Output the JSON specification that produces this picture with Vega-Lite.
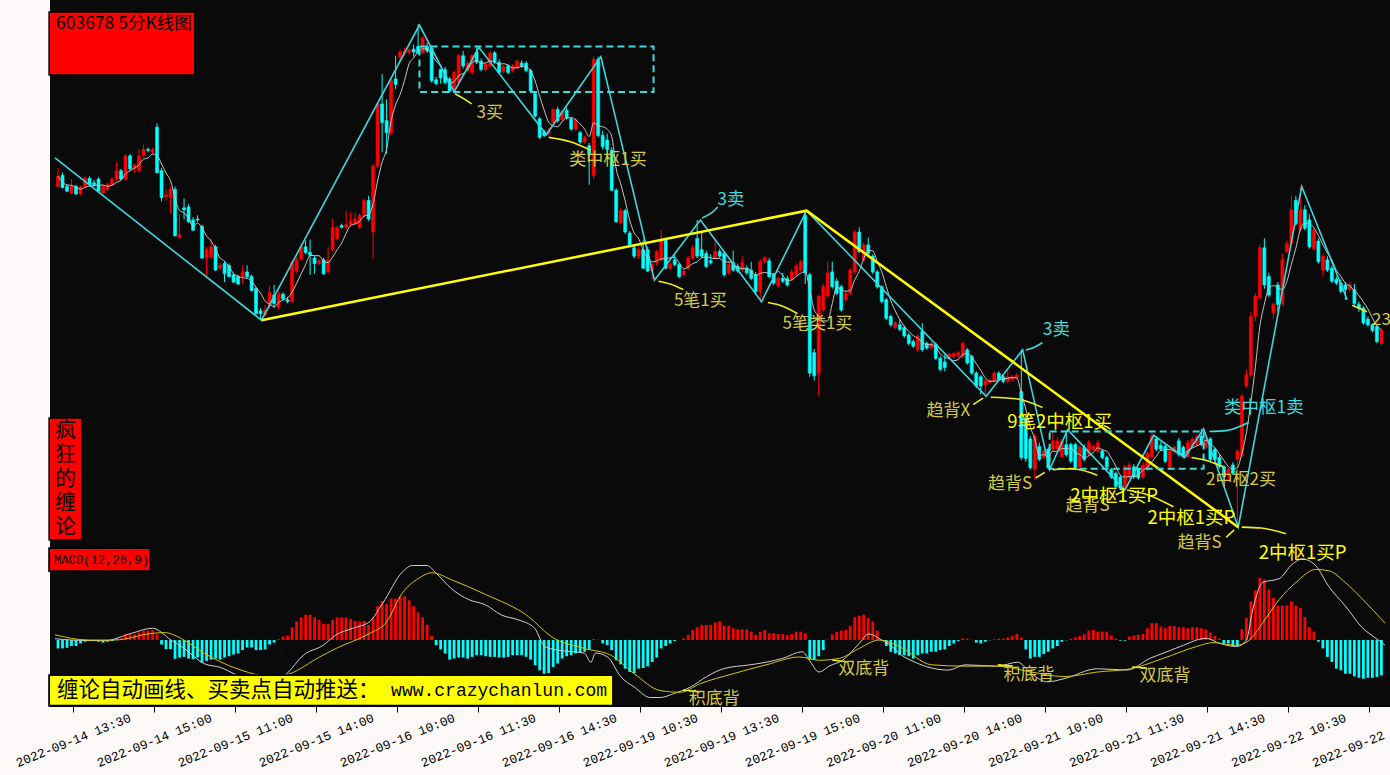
{
"$schema": "https://vega.github.io/schema/vega-lite/v6.json",
"width": 1340, "height": 706,
"autosize": {"type": "none"},
"padding": {"left": 50, "top": 0, "right": 0, "bottom": 69},
"background": "#fcf9f8",
"config": {"view": {"fill": "#0a0a0a", "stroke": null}, "axis": {"labelColor": "#000000", "tickColor": "#000000", "domainColor": "#000000"}},
"datasets": {
"candles": [
{"i":0,"o":45.55,"h":45.75,"l":45.54,"c":45.66,"m":-0.064},
{"i":1,"o":45.67,"h":45.70,"l":45.53,"c":45.54,"m":-0.064},
{"i":2,"o":45.55,"h":45.57,"l":45.49,"c":45.50,"m":-0.06},
{"i":3,"o":45.48,"h":45.63,"l":45.47,"c":45.55,"m":-0.046},
{"i":4,"o":45.55,"h":45.57,"l":45.46,"c":45.47,"m":-0.046},
{"i":5,"o":45.47,"h":45.56,"l":45.46,"c":45.55,"m":-0.026},
{"i":6,"o":45.55,"h":45.66,"l":45.53,"c":45.64,"m":-0.013},
{"i":7,"o":45.64,"h":45.66,"l":45.55,"c":45.57,"m":-0.008},
{"i":8,"o":45.59,"h":45.62,"l":45.55,"c":45.57,"m":-0.005},
{"i":9,"o":45.63,"h":45.65,"l":45.48,"c":45.50,"m":-0.013},
{"i":10,"o":45.48,"h":45.57,"l":45.46,"c":45.55,"m":-0.02},
{"i":11,"o":45.52,"h":45.59,"l":45.50,"c":45.57,"m":-0.013},
{"i":12,"o":45.57,"h":45.65,"l":45.56,"c":45.63,"m":-0.008},
{"i":13,"o":45.63,"h":45.81,"l":45.61,"c":45.72,"m":0.013},
{"i":14,"o":45.72,"h":45.74,"l":45.62,"c":45.63,"m":0.013},
{"i":15,"o":45.63,"h":45.90,"l":45.62,"c":45.88,"m":0.044},
{"i":16,"o":45.88,"h":45.90,"l":45.72,"c":45.74,"m":0.044},
{"i":17,"o":45.74,"h":45.80,"l":45.70,"c":45.78,"m":0.044},
{"i":18,"o":45.72,"h":45.95,"l":45.70,"c":45.88,"m":0.057},
{"i":19,"o":45.89,"h":46.00,"l":45.87,"c":45.95,"m":0.07},
{"i":20,"o":45.95,"h":45.97,"l":45.92,"c":45.94,"m":0.072},
{"i":21,"o":45.92,"h":45.97,"l":45.90,"c":45.95,"m":0.077},
{"i":22,"o":46.19,"h":46.23,"l":45.69,"c":45.70,"m":0.044},
{"i":23,"o":45.72,"h":45.75,"l":45.39,"c":45.43,"m":-0.034},
{"i":24,"o":45.44,"h":45.52,"l":45.40,"c":45.46,"m":-0.07},
{"i":25,"o":45.43,"h":45.55,"l":45.26,"c":45.52,"m":-0.07},
{"i":26,"o":45.52,"h":45.55,"l":45.01,"c":45.02,"m":-0.144},
{"i":27,"o":45.00,"h":45.25,"l":44.99,"c":45.03,"m":-0.134},
{"i":28,"o":45.32,"h":45.42,"l":45.20,"c":45.30,"m":-0.129},
{"i":29,"o":45.33,"h":45.36,"l":45.16,"c":45.17,"m":-0.142},
{"i":30,"o":45.19,"h":45.22,"l":45.07,"c":45.08,"m":-0.147},
{"i":31,"o":45.20,"h":45.24,"l":45.17,"c":45.19,"m":-0.134},
{"i":32,"o":45.12,"h":45.14,"l":44.77,"c":44.78,"m":-0.175},
{"i":33,"o":44.78,"h":44.90,"l":44.58,"c":44.87,"m":-0.16},
{"i":34,"o":44.79,"h":44.99,"l":44.77,"c":44.90,"m":-0.15},
{"i":35,"o":44.90,"h":44.92,"l":44.64,"c":44.65,"m":-0.142},
{"i":36,"o":44.67,"h":44.73,"l":44.65,"c":44.70,"m":-0.15},
{"i":37,"o":44.72,"h":44.75,"l":44.52,"c":44.61,"m":-0.134},
{"i":38,"o":44.70,"h":44.72,"l":44.57,"c":44.58,"m":-0.124},
{"i":39,"o":44.60,"h":44.62,"l":44.51,"c":44.52,"m":-0.111},
{"i":40,"o":44.58,"h":44.60,"l":44.49,"c":44.50,"m":-0.103},
{"i":41,"o":44.58,"h":44.70,"l":44.50,"c":44.63,"m":-0.077},
{"i":42,"o":44.63,"h":44.70,"l":44.56,"c":44.58,"m":-0.057},
{"i":43,"o":44.58,"h":44.60,"l":44.42,"c":44.43,"m":-0.057},
{"i":44,"o":44.45,"h":44.47,"l":44.17,"c":44.18,"m":-0.077},
{"i":45,"o":44.21,"h":44.24,"l":44.11,"c":44.18,"m":-0.077},
{"i":46,"o":44.17,"h":44.27,"l":44.15,"c":44.22,"m":-0.072},
{"i":47,"o":44.27,"h":44.48,"l":44.24,"c":44.41,"m":-0.034},
{"i":48,"o":44.38,"h":44.49,"l":44.24,"c":44.29,"m":-0.02},
{"i":49,"o":44.25,"h":44.42,"l":44.23,"c":44.39,"m":0.005},
{"i":50,"o":44.39,"h":44.41,"l":44.32,"c":44.34,"m":0.026},
{"i":51,"o":44.33,"h":44.36,"l":44.29,"c":44.31,"m":0.034},
{"i":52,"o":44.31,"h":44.75,"l":44.30,"c":44.73,"m":0.098},
{"i":53,"o":44.64,"h":44.79,"l":44.62,"c":44.76,"m":0.142},
{"i":54,"o":44.77,"h":44.92,"l":44.75,"c":44.90,"m":0.173},
{"i":55,"o":44.90,"h":44.97,"l":44.82,"c":44.84,"m":0.193},
{"i":56,"o":44.84,"h":44.98,"l":44.60,"c":44.81,"m":0.193},
{"i":57,"o":44.78,"h":44.80,"l":44.61,"c":44.72,"m":0.173},
{"i":58,"o":44.72,"h":44.77,"l":44.70,"c":44.75,"m":0.155},
{"i":59,"o":44.76,"h":44.78,"l":44.60,"c":44.61,"m":0.124},
{"i":60,"o":44.63,"h":44.90,"l":44.61,"c":44.76,"m":0.124},
{"i":61,"o":44.87,"h":45.20,"l":44.85,"c":45.11,"m":0.155},
{"i":62,"o":44.99,"h":45.13,"l":44.97,"c":45.11,"m":0.173},
{"i":63,"o":45.13,"h":45.15,"l":45.10,"c":45.11,"m":0.173},
{"i":64,"o":45.11,"h":45.29,"l":45.09,"c":45.14,"m":0.173},
{"i":65,"o":45.14,"h":45.27,"l":45.12,"c":45.18,"m":0.162},
{"i":66,"o":45.15,"h":45.27,"l":45.13,"c":45.20,"m":0.147},
{"i":67,"o":45.11,"h":45.26,"l":45.09,"c":45.24,"m":0.142},
{"i":68,"o":45.24,"h":45.42,"l":45.22,"c":45.40,"m":0.147},
{"i":69,"o":45.40,"h":45.45,"l":45.18,"c":45.20,"m":0.116},
{"i":70,"o":45.06,"h":45.79,"l":44.77,"c":45.77,"m":0.168},
{"i":71,"o":45.77,"h":46.46,"l":45.75,"c":46.44,"m":0.258},
{"i":72,"o":46.44,"h":46.76,"l":45.92,"c":46.24,"m":0.296},
{"i":73,"o":46.26,"h":46.49,"l":45.90,"c":46.13,"m":0.276},
{"i":74,"o":46.13,"h":46.72,"l":46.10,"c":46.69,"m":0.317},
{"i":75,"o":46.71,"h":46.96,"l":46.60,"c":46.65,"m":0.317},
{"i":76,"o":46.94,"h":47.03,"l":46.90,"c":47.00,"m":0.335},
{"i":77,"o":46.99,"h":47.05,"l":46.96,"c":47.01,"m":0.335},
{"i":78,"o":47.00,"h":47.04,"l":46.97,"c":47.02,"m":0.304},
{"i":79,"o":47.03,"h":47.08,"l":46.95,"c":47.00,"m":0.258},
{"i":80,"o":47.06,"h":47.30,"l":46.97,"c":46.99,"m":0.211},
{"i":81,"o":46.99,"h":47.17,"l":46.98,"c":47.15,"m":0.173},
{"i":82,"o":47.06,"h":47.10,"l":46.99,"c":47.01,"m":0.116},
{"i":83,"o":47.04,"h":47.07,"l":46.67,"c":46.69,"m":0.031},
{"i":84,"o":46.70,"h":46.73,"l":46.64,"c":46.66,"m":-0.039},
{"i":85,"o":46.81,"h":46.82,"l":46.66,"c":46.72,"m":-0.072},
{"i":86,"o":46.81,"h":46.84,"l":46.65,"c":46.67,"m":-0.103},
{"i":87,"o":46.71,"h":46.73,"l":46.56,"c":46.58,"m":-0.15},
{"i":88,"o":46.60,"h":46.80,"l":46.58,"c":46.78,"m":-0.142},
{"i":89,"o":46.67,"h":46.98,"l":46.65,"c":46.96,"m":-0.134},
{"i":90,"o":46.96,"h":47.01,"l":46.82,"c":46.85,"m":-0.134},
{"i":91,"o":46.80,"h":46.90,"l":46.78,"c":46.88,"m":-0.142},
{"i":92,"o":46.78,"h":46.98,"l":46.76,"c":46.96,"m":-0.129},
{"i":93,"o":47.00,"h":47.05,"l":46.87,"c":46.89,"m":-0.116},
{"i":94,"o":46.90,"h":46.93,"l":46.79,"c":46.81,"m":-0.116},
{"i":95,"o":46.81,"h":46.89,"l":46.79,"c":46.87,"m":-0.124},
{"i":96,"o":46.85,"h":47.01,"l":46.83,"c":46.99,"m":-0.129},
{"i":97,"o":46.99,"h":47.01,"l":46.87,"c":46.89,"m":-0.129},
{"i":98,"o":46.89,"h":46.92,"l":46.76,"c":46.78,"m":-0.134},
{"i":99,"o":46.79,"h":46.86,"l":46.77,"c":46.84,"m":-0.134},
{"i":100,"o":46.85,"h":46.87,"l":46.76,"c":46.78,"m":-0.129},
{"i":101,"o":46.80,"h":46.87,"l":46.78,"c":46.85,"m":-0.116},
{"i":102,"o":46.83,"h":46.92,"l":46.81,"c":46.90,"m":-0.116},
{"i":103,"o":46.88,"h":46.91,"l":46.83,"c":46.85,"m":-0.116},
{"i":104,"o":46.88,"h":46.90,"l":46.78,"c":46.80,"m":-0.129},
{"i":105,"o":46.80,"h":46.82,"l":46.56,"c":46.58,"m":-0.15},
{"i":106,"o":46.55,"h":46.57,"l":46.29,"c":46.31,"m":-0.193},
{"i":107,"o":46.28,"h":46.30,"l":46.06,"c":46.08,"m":-0.232},
{"i":108,"o":46.14,"h":46.16,"l":46.08,"c":46.10,"m":-0.258},
{"i":109,"o":46.12,"h":46.18,"l":46.10,"c":46.15,"m":-0.253},
{"i":110,"o":46.24,"h":46.40,"l":46.22,"c":46.38,"m":-0.206},
{"i":111,"o":46.38,"h":46.41,"l":46.24,"c":46.26,"m":-0.18},
{"i":112,"o":46.27,"h":46.38,"l":46.25,"c":46.36,"m":-0.142},
{"i":113,"o":46.37,"h":46.40,"l":46.27,"c":46.29,"m":-0.124},
{"i":114,"o":46.28,"h":46.30,"l":46.15,"c":46.17,"m":-0.116},
{"i":115,"o":46.17,"h":46.29,"l":46.15,"c":46.27,"m":-0.103},
{"i":116,"o":46.13,"h":46.15,"l":46.01,"c":46.03,"m":-0.098},
{"i":117,"o":46.03,"h":46.10,"l":46.01,"c":46.08,"m":-0.09},
{"i":118,"o":45.99,"h":46.02,"l":45.57,"c":45.89,"m":-0.077},
{"i":119,"o":45.67,"h":46.95,"l":45.63,"c":46.92,"m":0.008},
{"i":120,"o":46.92,"h":46.95,"l":46.08,"c":46.10,"m":0.002},
{"i":121,"o":46.10,"h":46.15,"l":45.95,"c":45.98,"m":-0.026},
{"i":122,"o":46.05,"h":46.12,"l":45.85,"c":45.95,"m":-0.039},
{"i":123,"o":45.94,"h":45.97,"l":45.50,"c":45.51,"m":-0.077},
{"i":124,"o":45.51,"h":45.53,"l":45.16,"c":45.17,"m":-0.155},
{"i":125,"o":45.16,"h":45.32,"l":45.14,"c":45.29,"m":-0.186},
{"i":126,"o":45.29,"h":45.31,"l":45.04,"c":45.06,"m":-0.219},
{"i":127,"o":45.05,"h":45.07,"l":44.91,"c":44.92,"m":-0.245},
{"i":128,"o":44.89,"h":44.91,"l":44.78,"c":44.80,"m":-0.253},
{"i":129,"o":44.80,"h":44.90,"l":44.77,"c":44.87,"m":-0.219},
{"i":130,"o":44.87,"h":44.98,"l":44.66,"c":44.67,"m":-0.214},
{"i":131,"o":44.87,"h":44.90,"l":44.63,"c":44.64,"m":-0.201},
{"i":132,"o":44.64,"h":44.73,"l":44.55,"c":44.71,"m":-0.168},
{"i":133,"o":44.73,"h":44.87,"l":44.70,"c":44.85,"m":-0.134},
{"i":134,"o":44.76,"h":45.08,"l":44.74,"c":44.98,"m":-0.064},
{"i":135,"o":44.98,"h":45.00,"l":44.66,"c":44.67,"m":-0.046},
{"i":136,"o":44.67,"h":44.74,"l":44.65,"c":44.71,"m":-0.026},
{"i":137,"o":44.76,"h":44.82,"l":44.69,"c":44.71,"m":-0.008},
{"i":138,"o":44.71,"h":44.73,"l":44.56,"c":44.58,"m":0.0},
{"i":139,"o":44.60,"h":44.67,"l":44.58,"c":44.64,"m":0.013},
{"i":140,"o":44.67,"h":44.80,"l":44.65,"c":44.78,"m":0.039},
{"i":141,"o":44.78,"h":44.92,"l":44.76,"c":44.89,"m":0.077},
{"i":142,"o":44.99,"h":45.19,"l":44.78,"c":44.80,"m":0.098},
{"i":143,"o":44.87,"h":45.07,"l":44.78,"c":44.80,"m":0.116},
{"i":144,"o":44.83,"h":44.86,"l":44.67,"c":44.69,"m":0.116},
{"i":145,"o":44.75,"h":44.82,"l":44.71,"c":44.73,"m":0.116},
{"i":146,"o":44.78,"h":44.99,"l":44.76,"c":44.85,"m":0.134},
{"i":147,"o":44.85,"h":44.88,"l":44.78,"c":44.80,"m":0.142},
{"i":148,"o":44.83,"h":44.85,"l":44.58,"c":44.60,"m":0.108},
{"i":149,"o":44.62,"h":44.75,"l":44.60,"c":44.71,"m":0.108},
{"i":150,"o":44.73,"h":44.86,"l":44.63,"c":44.65,"m":0.09},
{"i":151,"o":44.69,"h":44.72,"l":44.62,"c":44.64,"m":0.082},
{"i":152,"o":44.65,"h":44.80,"l":44.63,"c":44.73,"m":0.082},
{"i":153,"o":44.67,"h":44.70,"l":44.60,"c":44.62,"m":0.082},
{"i":154,"o":44.65,"h":44.74,"l":44.54,"c":44.56,"m":0.064},
{"i":155,"o":44.60,"h":44.63,"l":44.40,"c":44.42,"m":0.039},
{"i":156,"o":44.42,"h":44.77,"l":44.31,"c":44.74,"m":0.064},
{"i":157,"o":44.74,"h":44.80,"l":44.72,"c":44.78,"m":0.077},
{"i":158,"o":44.75,"h":44.78,"l":44.56,"c":44.58,"m":0.052},
{"i":159,"o":44.60,"h":44.62,"l":44.49,"c":44.51,"m":0.052},
{"i":160,"o":44.48,"h":44.58,"l":44.46,"c":44.56,"m":0.046},
{"i":161,"o":44.56,"h":44.62,"l":44.51,"c":44.53,"m":0.046},
{"i":162,"o":44.56,"h":44.59,"l":44.47,"c":44.49,"m":0.039},
{"i":163,"o":44.55,"h":44.66,"l":44.53,"c":44.63,"m":0.046},
{"i":164,"o":44.60,"h":44.72,"l":44.58,"c":44.69,"m":0.064},
{"i":165,"o":44.65,"h":44.76,"l":44.63,"c":44.74,"m":0.064},
{"i":166,"o":45.24,"h":45.30,"l":44.50,"c":44.62,"m":0.052},
{"i":167,"o":44.60,"h":44.62,"l":43.50,"c":43.54,"m":-0.15},
{"i":168,"o":43.76,"h":43.80,"l":43.46,"c":43.51,"m":-0.15},
{"i":169,"o":43.54,"h":44.38,"l":43.29,"c":44.37,"m":-0.124},
{"i":170,"o":44.22,"h":44.50,"l":44.20,"c":44.47,"m":-0.077},
{"i":171,"o":44.37,"h":44.74,"l":44.35,"c":44.62,"m":0.003},
{"i":172,"o":44.63,"h":44.74,"l":44.45,"c":44.47,"m":0.044},
{"i":173,"o":44.53,"h":44.56,"l":44.38,"c":44.40,"m":0.064},
{"i":174,"o":44.47,"h":44.49,"l":44.20,"c":44.22,"m":0.072},
{"i":175,"o":44.33,"h":44.42,"l":44.30,"c":44.40,"m":0.077},
{"i":176,"o":44.40,"h":44.67,"l":44.38,"c":44.65,"m":0.108},
{"i":177,"o":44.63,"h":45.08,"l":44.61,"c":45.06,"m":0.175},
{"i":178,"o":45.06,"h":45.11,"l":44.83,"c":44.85,"m":0.186},
{"i":179,"o":44.76,"h":44.95,"l":44.74,"c":44.92,"m":0.193},
{"i":180,"o":44.92,"h":45.00,"l":44.81,"c":44.83,"m":0.168},
{"i":181,"o":44.80,"h":44.82,"l":44.61,"c":44.63,"m":0.142},
{"i":182,"o":44.63,"h":44.65,"l":44.45,"c":44.47,"m":0.072},
{"i":183,"o":44.47,"h":44.49,"l":44.29,"c":44.31,"m":-0.003},
{"i":184,"o":44.33,"h":44.35,"l":44.11,"c":44.13,"m":-0.046},
{"i":185,"o":44.15,"h":44.17,"l":44.04,"c":44.06,"m":-0.09},
{"i":186,"o":44.03,"h":44.10,"l":44.01,"c":44.08,"m":-0.103},
{"i":187,"o":44.06,"h":44.12,"l":43.99,"c":44.01,"m":-0.116},
{"i":188,"o":44.03,"h":44.05,"l":43.92,"c":43.94,"m":-0.116},
{"i":189,"o":43.95,"h":43.97,"l":43.84,"c":43.86,"m":-0.124},
{"i":190,"o":43.88,"h":43.90,"l":43.81,"c":43.83,"m":-0.142},
{"i":191,"o":43.79,"h":43.96,"l":43.77,"c":43.94,"m":-0.116},
{"i":192,"o":43.99,"h":44.08,"l":43.77,"c":43.79,"m":-0.103},
{"i":193,"o":43.86,"h":43.88,"l":43.79,"c":43.81,"m":-0.103},
{"i":194,"o":43.81,"h":43.88,"l":43.79,"c":43.86,"m":-0.09},
{"i":195,"o":43.85,"h":43.87,"l":43.68,"c":43.70,"m":-0.09},
{"i":196,"o":43.70,"h":43.72,"l":43.56,"c":43.58,"m":-0.077},
{"i":197,"o":43.66,"h":43.74,"l":43.56,"c":43.60,"m":-0.072},
{"i":198,"o":43.71,"h":43.76,"l":43.69,"c":43.74,"m":-0.046},
{"i":199,"o":43.72,"h":43.77,"l":43.70,"c":43.75,"m":-0.026},
{"i":200,"o":43.73,"h":43.78,"l":43.70,"c":43.76,"m":-0.008},
{"i":201,"o":43.72,"h":43.88,"l":43.70,"c":43.86,"m":0.013},
{"i":202,"o":43.79,"h":43.81,"l":43.63,"c":43.65,"m":0.01},
{"i":203,"o":43.72,"h":43.74,"l":43.52,"c":43.54,"m":0.002},
{"i":204,"o":43.54,"h":43.56,"l":43.38,"c":43.40,"m":-0.02},
{"i":205,"o":43.50,"h":43.52,"l":43.31,"c":43.40,"m":-0.026},
{"i":206,"o":43.41,"h":43.47,"l":43.30,"c":43.46,"m":-0.013},
{"i":207,"o":43.44,"h":43.48,"l":43.42,"c":43.46,"m":-0.002},
{"i":208,"o":43.46,"h":43.56,"l":43.44,"c":43.54,"m":0.005},
{"i":209,"o":43.54,"h":43.56,"l":43.45,"c":43.47,"m":0.01},
{"i":210,"o":43.50,"h":43.52,"l":43.43,"c":43.45,"m":0.01},
{"i":211,"o":43.45,"h":43.58,"l":43.43,"c":43.50,"m":0.02},
{"i":212,"o":43.47,"h":43.52,"l":43.45,"c":43.50,"m":0.031},
{"i":213,"o":43.49,"h":43.54,"l":43.47,"c":43.52,"m":0.046},
{"i":214,"o":43.34,"h":43.79,"l":42.60,"c":42.63,"m":0.018},
{"i":215,"o":43.05,"h":43.10,"l":42.58,"c":42.62,"m":-0.072},
{"i":216,"o":42.83,"h":42.86,"l":42.50,"c":42.52,"m":-0.142},
{"i":217,"o":42.50,"h":42.89,"l":42.39,"c":42.86,"m":-0.129},
{"i":218,"o":42.75,"h":42.79,"l":42.59,"c":42.61,"m":-0.129},
{"i":219,"o":42.63,"h":42.72,"l":42.61,"c":42.70,"m":-0.108},
{"i":220,"o":42.72,"h":42.74,"l":42.50,"c":42.52,"m":-0.09},
{"i":221,"o":42.72,"h":42.90,"l":42.70,"c":42.81,"m":-0.064},
{"i":222,"o":42.72,"h":42.85,"l":42.70,"c":42.81,"m":-0.046},
{"i":223,"o":42.64,"h":42.83,"l":42.62,"c":42.81,"m":-0.013},
{"i":224,"o":42.77,"h":42.92,"l":42.64,"c":42.66,"m":-0.002},
{"i":225,"o":42.77,"h":42.79,"l":42.57,"c":42.59,"m":0.01},
{"i":226,"o":42.77,"h":42.79,"l":42.50,"c":42.52,"m":0.02},
{"i":227,"o":42.53,"h":42.76,"l":42.51,"c":42.74,"m":0.031},
{"i":228,"o":42.74,"h":42.77,"l":42.59,"c":42.61,"m":0.044},
{"i":229,"o":42.66,"h":42.82,"l":42.64,"c":42.79,"m":0.072},
{"i":230,"o":42.72,"h":42.77,"l":42.70,"c":42.75,"m":0.077},
{"i":231,"o":42.70,"h":42.82,"l":42.68,"c":42.79,"m":0.064},
{"i":232,"o":42.70,"h":42.72,"l":42.61,"c":42.63,"m":0.064},
{"i":233,"o":42.63,"h":42.65,"l":42.51,"c":42.53,"m":0.064},
{"i":234,"o":42.50,"h":42.52,"l":42.40,"c":42.42,"m":0.034},
{"i":235,"o":42.46,"h":42.48,"l":42.30,"c":42.32,"m":0.01},
{"i":236,"o":42.42,"h":42.44,"l":42.28,"c":42.30,"m":-0.005},
{"i":237,"o":42.30,"h":42.55,"l":42.28,"c":42.53,"m":-0.005},
{"i":238,"o":42.42,"h":42.58,"l":42.40,"c":42.55,"m":0.026},
{"i":239,"o":42.53,"h":42.56,"l":42.40,"c":42.42,"m":0.034},
{"i":240,"o":42.50,"h":42.52,"l":42.39,"c":42.41,"m":0.039},
{"i":241,"o":42.42,"h":42.58,"l":42.40,"c":42.55,"m":0.046},
{"i":242,"o":42.50,"h":42.70,"l":42.48,"c":42.68,"m":0.09},
{"i":243,"o":42.64,"h":42.90,"l":42.62,"c":42.86,"m":0.129},
{"i":244,"o":42.83,"h":42.86,"l":42.70,"c":42.72,"m":0.129},
{"i":245,"o":42.76,"h":42.80,"l":42.70,"c":42.72,"m":0.103},
{"i":246,"o":42.75,"h":42.78,"l":42.57,"c":42.59,"m":0.09},
{"i":247,"o":42.53,"h":42.73,"l":42.51,"c":42.70,"m":0.108},
{"i":248,"o":42.70,"h":42.76,"l":42.68,"c":42.74,"m":0.108},
{"i":249,"o":42.81,"h":42.84,"l":42.64,"c":42.66,"m":0.098},
{"i":250,"o":42.74,"h":42.76,"l":42.62,"c":42.64,"m":0.098},
{"i":251,"o":42.64,"h":42.82,"l":42.62,"c":42.79,"m":0.09},
{"i":252,"o":42.75,"h":42.85,"l":42.73,"c":42.83,"m":0.098},
{"i":253,"o":42.77,"h":42.88,"l":42.75,"c":42.86,"m":0.098},
{"i":254,"o":42.86,"h":42.94,"l":42.75,"c":42.77,"m":0.09},
{"i":255,"o":42.74,"h":42.85,"l":42.72,"c":42.83,"m":0.082},
{"i":256,"o":42.83,"h":42.85,"l":42.59,"c":42.61,"m":0.057},
{"i":257,"o":42.72,"h":42.74,"l":42.59,"c":42.61,"m":0.031},
{"i":258,"o":42.63,"h":42.66,"l":42.51,"c":42.53,"m":0.01},
{"i":259,"o":42.53,"h":42.55,"l":42.40,"c":42.42,"m":-0.026},
{"i":260,"o":42.45,"h":42.52,"l":42.40,"c":42.50,"m":-0.026},
{"i":261,"o":42.55,"h":42.58,"l":42.44,"c":42.46,"m":-0.046},
{"i":262,"o":42.61,"h":42.72,"l":41.89,"c":42.70,"m":-0.046},
{"i":263,"o":42.65,"h":43.32,"l":42.63,"c":43.29,"m":0.082},
{"i":264,"o":43.40,"h":43.58,"l":43.38,"c":43.52,"m":0.168},
{"i":265,"o":43.52,"h":44.20,"l":43.50,"c":44.15,"m":0.296},
{"i":266,"o":44.15,"h":44.40,"l":44.10,"c":44.37,"m":0.379},
{"i":267,"o":44.35,"h":44.92,"l":44.33,"c":44.89,"m":0.477},
{"i":268,"o":44.89,"h":44.99,"l":44.45,"c":44.49,"m":0.464},
{"i":269,"o":44.58,"h":44.62,"l":44.36,"c":44.38,"m":0.387},
{"i":270,"o":44.19,"h":44.30,"l":44.12,"c":44.28,"m":0.322},
{"i":271,"o":44.49,"h":44.52,"l":44.20,"c":44.28,"m":0.263},
{"i":272,"o":44.29,"h":44.83,"l":44.27,"c":44.76,"m":0.263},
{"i":273,"o":44.85,"h":44.97,"l":44.83,"c":44.94,"m":0.263},
{"i":274,"o":44.94,"h":45.45,"l":44.92,"c":45.30,"m":0.296},
{"i":275,"o":45.40,"h":45.45,"l":45.13,"c":45.15,"m":0.263},
{"i":276,"o":45.08,"h":45.55,"l":45.06,"c":45.30,"m":0.245},
{"i":277,"o":45.30,"h":45.35,"l":45.08,"c":45.10,"m":0.175},
{"i":278,"o":45.19,"h":45.25,"l":44.88,"c":44.90,"m":0.098},
{"i":279,"o":44.88,"h":45.10,"l":44.86,"c":45.08,"m":0.064},
{"i":280,"o":44.96,"h":44.99,"l":44.72,"c":44.74,"m":-0.013},
{"i":281,"o":44.65,"h":44.82,"l":44.58,"c":44.80,"m":-0.064},
{"i":282,"o":44.76,"h":44.80,"l":44.63,"c":44.65,"m":-0.129},
{"i":283,"o":44.67,"h":44.70,"l":44.51,"c":44.53,"m":-0.168},
{"i":284,"o":44.55,"h":44.58,"l":44.49,"c":44.51,"m":-0.219},
{"i":285,"o":44.51,"h":44.55,"l":44.40,"c":44.42,"m":-0.232},
{"i":286,"o":44.49,"h":44.52,"l":44.33,"c":44.44,"m":-0.258},
{"i":287,"o":44.44,"h":44.52,"l":44.42,"c":44.49,"m":-0.258},
{"i":288,"o":44.44,"h":44.50,"l":44.27,"c":44.29,"m":-0.278},
{"i":289,"o":44.28,"h":44.31,"l":44.20,"c":44.24,"m":-0.289},
{"i":290,"o":44.24,"h":44.26,"l":44.06,"c":44.08,"m":-0.296},
{"i":291,"o":44.12,"h":44.15,"l":44.04,"c":44.06,"m":-0.289},
{"i":292,"o":44.06,"h":44.08,"l":43.98,"c":44.00,"m":-0.289},
{"i":293,"o":44.04,"h":44.06,"l":43.86,"c":43.88,"m":-0.283},
{"i":294,"o":43.86,"h":44.03,"l":43.84,"c":44.00,"m":-0.27}
],
"pens": [
{"i":-0.67,"p":45.86},{"i":45.2,"p":44.11},{"i":80.3,"p":47.29},{"i":88.0,"p":46.57},{"i":93.5,"p":47.05},{"i":108.5,"p":46.11},{"i":120.6,"p":46.95},{"i":132.5,"p":44.54},{"i":142.7,"p":45.19},{"i":156.3,"p":44.31},{"i":166.3,"p":45.29},{"i":206.2,"p":43.29},{"i":214.3,"p":43.79},{"i":220.3,"p":42.50},{"i":224.3,"p":42.93},{"i":237.0,"p":42.28},{"i":243.4,"p":42.87},{"i":250.3,"p":42.63},{"i":254.5,"p":42.94},{"i":262.2,"p":41.88},{"i":276.3,"p":45.55},{"i":286.4,"p":44.33}
],
"seg": [{"i":45.2,"p":44.11},{"i":166.3,"p":45.29},{"i":262.2,"p":41.88}],
"zs": [{"i":80.3,"i2":132.3,"p":47.06,"p2":46.57},{"i":220.3,"i2":254.5,"p":42.91,"p2":42.51}],
"arrows": [
{"g":1,"k":"buy","o":0,"i":91.9,"p":46.44},{"g":1,"k":"buy","o":1,"i":90.0,"p":46.50},{"g":1,"k":"buy","o":2,"i":88.2,"p":46.55},
{"g":2,"k":"buy","o":0,"i":118.4,"p":45.94},{"g":2,"k":"buy","o":1,"i":114.0,"p":46.03},{"g":2,"k":"buy","o":2,"i":109.0,"p":46.08},
{"g":3,"k":"sell","o":0,"i":146.6,"p":45.33},{"g":3,"k":"sell","o":1,"i":145.0,"p":45.26},{"g":3,"k":"sell","o":2,"i":143.1,"p":45.21},
{"g":4,"k":"buy","o":0,"i":138.9,"p":44.44},{"g":4,"k":"buy","o":1,"i":136.0,"p":44.50},{"g":4,"k":"buy","o":2,"i":133.4,"p":44.53},
{"g":5,"k":"buy","o":0,"i":164.3,"p":44.18},{"g":5,"k":"buy","o":1,"i":161.0,"p":44.26},{"g":5,"k":"buy","o":2,"i":157.7,"p":44.30},
{"g":6,"k":"buy","o":0,"i":203.3,"p":43.20},{"g":6,"k":"buy","o":1,"i":205.5,"p":43.27},
{"g":7,"k":"sell","o":0,"i":218.7,"p":43.87},{"g":7,"k":"sell","o":1,"i":216.5,"p":43.81},{"g":7,"k":"sell","o":2,"i":215.0,"p":43.79},
{"g":8,"k":"buy","o":0,"i":218.7,"p":43.17},{"g":8,"k":"buy","o":1,"i":213.2,"p":43.26},{"g":8,"k":"buy","o":2,"i":207.2,"p":43.28},
{"g":9,"k":"buy","o":0,"i":217.2,"p":42.41},{"g":9,"k":"buy","o":1,"i":219.2,"p":42.47},
{"g":10,"k":"buy","o":0,"i":230.9,"p":42.44},{"g":10,"k":"buy","o":1,"i":225.4,"p":42.51},{"g":10,"k":"buy","o":2,"i":221.0,"p":42.50},
{"g":11,"k":"buy","o":0,"i":235.0,"p":42.23},{"g":11,"k":"buy","o":1,"i":236.8,"p":42.27},
{"g":12,"k":"buy","o":0,"i":247.8,"p":42.10},{"g":12,"k":"buy","o":1,"i":242.0,"p":42.23},{"g":12,"k":"buy","o":2,"i":237.5,"p":42.28},
{"g":13,"k":"buy","o":0,"i":258.8,"p":42.53},{"g":13,"k":"buy","o":1,"i":255.0,"p":42.60},{"g":13,"k":"buy","o":2,"i":251.8,"p":42.63},
{"g":14,"k":"buy","o":0,"i":259.5,"p":41.77},{"g":14,"k":"buy","o":1,"i":261.3,"p":41.85},
{"g":15,"k":"buy","o":0,"i":272.8,"p":41.81},{"g":15,"k":"buy","o":1,"i":267.3,"p":41.87},{"g":15,"k":"buy","o":2,"i":263.0,"p":41.88},
{"g":16,"k":"sell","o":0,"i":264.6,"p":43.01},{"g":16,"k":"sell","o":1,"i":259.5,"p":42.92},{"g":16,"k":"sell","o":2,"i":255.8,"p":42.91},
{"g":17,"k":"buy","o":0,"i":290.8,"p":44.20},{"g":17,"k":"buy","o":1,"i":287.5,"p":44.27}
],
"notes": [
{"k":"buy","t":"3买","i":95.9,"p":46.34},
{"k":"buy","t":"类中枢1买","i":122.2,"p":45.84},
{"k":"buy","t":"5笔1买","i":142.7,"p":44.32},
{"k":"buy","t":"5笔类1买","i":168.7,"p":44.07},
{"k":"buy","t":"趋背X","i":197.8,"p":43.13},
{"k":"buy","t":"趋背S","i":211.5,"p":42.34},
{"k":"buy","t":"趋背S","i":228.7,"p":42.11},
{"k":"buy","t":"2中枢2买","i":262.8,"p":42.39},
{"k":"buy","t":"趋背S","i":253.6,"p":41.71},
{"k":"buy","t":"23","i":294.0,"p":44.11},
{"k":"strong","t":"9笔2中枢1买","i":222.5,"p":43.01},
{"k":"strong","t":"2中枢1买P","i":234.6,"p":42.22},
{"k":"strong","t":"2中枢1买P","i":251.8,"p":41.98},
{"k":"strong","t":"2中枢1买P","i":276.5,"p":41.60},
{"k":"sell","t":"3卖","i":149.5,"p":45.41},
{"k":"sell","t":"3卖","i":221.8,"p":44.0},
{"k":"sell","t":"类中枢1卖","i":267.9,"p":43.16}
],
"pbox": [
{"name":"title","i":-1.98,"i2":30.4,"p":47.431,"p2":46.752},
{"name":"side","i":-1.98,"i2":5.29,"p":43.056,"p2":41.741}
],
"ptext": [
{"name":"title","t":"603678 5分K线图","i":-0.45,"p":47.30}
],
"side": [{"t":"疯\n狂\n的\n缠\n论","i":1.65,"p":43.03}],
"dif": [
{"i":-0.67,"v":0.01},{"i":3,"v":0.0},{"i":10.4,"v":-0.005},{"i":16.2,"v":0.05},{"i":21,"v":0.09},{"i":25.1,"v":0.0},{"i":28,"v":-0.064},{"i":32.4,"v":-0.18},{"i":36.1,"v":-0.21},{"i":39.8,"v":-0.27},{"i":43,"v":-0.32},{"i":46.5,"v":-0.33},{"i":49,"v":-0.30},{"i":50.8,"v":-0.258},{"i":54.5,"v":-0.116},{"i":58.9,"v":-0.04},{"i":61.8,"v":0.04},{"i":65.5,"v":0.09},{"i":69.2,"v":0.14},{"i":72.1,"v":0.28},{"i":76.5,"v":0.52},{"i":78.7,"v":0.57},{"i":82,"v":0.57},{"i":83.9,"v":0.515},{"i":87.5,"v":0.39},{"i":91.2,"v":0.31},{"i":94.9,"v":0.27},{"i":98.6,"v":0.19},{"i":102.2,"v":0.155},{"i":105.9,"v":0.09},{"i":108.1,"v":-0.05},{"i":111,"v":-0.077},{"i":116.9,"v":-0.1},{"i":118.4,"v":-0.17},{"i":119.4,"v":-0.1},{"i":122.1,"v":-0.13},{"i":125,"v":-0.28},{"i":128,"v":-0.36},{"i":131.6,"v":-0.44},{"i":133.8,"v":-0.44},{"i":136.8,"v":-0.41},{"i":140.5,"v":-0.36},{"i":144.1,"v":-0.28},{"i":147.8,"v":-0.22},{"i":153.7,"v":-0.19},{"i":157.3,"v":-0.17},{"i":161,"v":-0.14},{"i":165.4,"v":-0.09},{"i":166.9,"v":-0.155},{"i":169.1,"v":-0.245},{"i":171.3,"v":-0.2},{"i":174.3,"v":-0.155},{"i":177.9,"v":-0.03},{"i":180.1,"v":0.046},{"i":183,"v":0.0},{"i":185.3,"v":-0.05},{"i":186.8,"v":-0.1},{"i":190.4,"v":-0.17},{"i":197.8,"v":-0.23},{"i":201.5,"v":-0.19},{"i":208.8,"v":-0.2},{"i":213.2,"v":-0.17},{"i":216.2,"v":-0.258},{"i":219.8,"v":-0.32},{"i":223.5,"v":-0.296},{"i":230.9,"v":-0.22},{"i":237.5,"v":-0.23},{"i":242.6,"v":-0.14},{"i":245.6,"v":-0.1},{"i":249.3,"v":-0.05},{"i":255.1,"v":0.013},{"i":258.1,"v":-0.026},{"i":261.8,"v":-0.05},{"i":264,"v":0.0},{"i":265.4,"v":0.23},{"i":267.6,"v":0.44},{"i":271.3,"v":0.47},{"i":274.2,"v":0.58},{"i":276.4,"v":0.62},{"i":279.4,"v":0.57},{"i":282.3,"v":0.41},{"i":286,"v":0.26},{"i":289.6,"v":0.1},{"i":293.3,"v":0.0},{"i":294.8,"v":-0.04}
],
"dea": [
{"i":-0.67,"v":0.04},{"i":6.7,"v":0.0},{"i":12.6,"v":0.0},{"i":20.7,"v":0.05},{"i":23.6,"v":0.057},{"i":28,"v":0.0},{"i":32.4,"v":-0.1},{"i":39.8,"v":-0.22},{"i":44.9,"v":-0.27},{"i":48,"v":-0.285},{"i":51.5,"v":-0.258},{"i":58.1,"v":-0.13},{"i":61.8,"v":-0.064},{"i":69.2,"v":0.05},{"i":72.8,"v":0.13},{"i":76.5,"v":0.36},{"i":80,"v":0.47},{"i":83.1,"v":0.515},{"i":87.5,"v":0.46},{"i":94.9,"v":0.35},{"i":104.5,"v":0.18},{"i":109.6,"v":0.026},{"i":116.9,"v":-0.064},{"i":122.8,"v":-0.116},{"i":128,"v":-0.258},{"i":133.8,"v":-0.387},{"i":138.3,"v":-0.4},{"i":142.6,"v":-0.335},{"i":150,"v":-0.258},{"i":157.3,"v":-0.19},{"i":164.7,"v":-0.13},{"i":169.1,"v":-0.155},{"i":173.6,"v":-0.14},{"i":178,"v":-0.064},{"i":182.4,"v":0.0},{"i":186.9,"v":-0.05},{"i":194.1,"v":-0.19},{"i":201.5,"v":-0.2},{"i":208.8,"v":-0.2},{"i":216.2,"v":-0.245},{"i":223.5,"v":-0.28},{"i":230.9,"v":-0.245},{"i":238.3,"v":-0.22},{"i":245.6,"v":-0.14},{"i":252.9,"v":-0.05},{"i":256.6,"v":-0.02},{"i":261.8,"v":-0.04},{"i":264.7,"v":0.0},{"i":267.6,"v":0.13},{"i":271.3,"v":0.31},{"i":275,"v":0.44},{"i":279.4,"v":0.54},{"i":282.3,"v":0.53},{"i":286,"v":0.44},{"i":289.6,"v":0.32},{"i":294.8,"v":0.13}
],
"mbox": [
{"name":"macd","i":-1.98,"i2":20.5,"v":0.704,"v2":0.528,"fill":"red"},
{"name":"banner","i":-1.98,"i2":123.3,"v":-0.268,"v2":-0.503,"fill":"yellow"}
],
"mnotes": [
{"t":"积底背","i":145.8,"v":-0.451},
{"t":"双底背","i":179.0,"v":-0.222},
{"t":"积底背","i":215.7,"v":-0.268},
{"t":"双底背","i":245.9,"v":-0.276}
],
"marrows": [
{"g":1,"o":0,"i":142.7,"v":-0.398},{"g":1,"o":1,"i":138.9,"v":-0.383},
{"g":2,"o":0,"i":175.3,"v":-0.168},{"g":2,"o":1,"i":172.0,"v":-0.153},
{"g":3,"o":0,"i":212.1,"v":-0.2},{"g":3,"o":1,"i":208.8,"v":-0.19},
{"g":4,"o":0,"i":241.9,"v":-0.214},{"g":4,"o":1,"i":238.6,"v":-0.207}
]
},
"encoding": {
"x": {"field": "i", "type": "quantitative",
"scale": {"domain": [-0.67, 294.8], "nice": false, "zero": false},
"axis": {"values": [3.3,21.3,39.3,57.3,75.3,93.3,111.3,129.3,147.3,165.3,183.3,201.3,219.3,237.3,255.3,273.3,291.3],
"labelExpr": "['2022-09-14 13:30','2022-09-14 15:00','2022-09-15 11:00','2022-09-15 14:00','2022-09-16 10:00','2022-09-16 11:30','2022-09-16 14:30','2022-09-19 10:30','2022-09-19 13:30','2022-09-19 15:00','2022-09-20 11:00','2022-09-20 14:00','2022-09-21 10:00','2022-09-21 11:30','2022-09-21 14:30','2022-09-22 10:30','2022-09-22 13:30'][round((datum.value-3.3)/18)]",
"labelAngle": -22, "labelAlign": "center", "labelBaseline": "middle", "labelPadding": 28,
"labelFont": "Liberation Mono", "labelFontSize": 12.8, "labelColor": "#000000",
"tickSize": 6, "tickColor": "#000000", "domain": true, "domainColor": "#000000",
"grid": false, "title": null, "labelOverlap": false, "labelBound": false, "labelFlush": false}}
},
"layer": [
{"layer": [
{"data": {"name": "candles"}, "mark": {"type": "rule", "strokeWidth": 1},
"encoding": {
"y": {"field": "l", "type": "quantitative", "scale": {"domain": [41.623, 47.56], "range": [551, 0], "nice": false, "zero": false},
"axis": {"values": [42,43,44,45,46,47], "orient": "left", "title": null, "grid": true, "gridColor": "#3c3c3c", "gridDash": [2,2], "domain": false, "tickSize": 6, "tickColor": "#000000", "labelFont": "Liberation Sans", "labelFontSize": 15, "labelColor": "#000000", "labelPadding": 8}},
"y2": {"field": "h"},
"color": {"condition": {"test": "datum.c >= datum.o", "value": "#ff0000"}, "value": "#00ffff"}}},
{"data": {"name": "candles"}, "mark": {"type": "bar", "size": 3, "strokeWidth": 0.6},
"encoding": {
"y": {"field": "o", "type": "quantitative", "scale": {"domain": [41.623, 47.56], "range": [551, 0], "nice": false, "zero": false}, "axis": null},
"y2": {"field": "c"},
"fill": {"condition": {"test": "datum.c >= datum.o", "value": "#ff0000"}, "value": "#00ffff"},
"stroke": {"condition": {"test": "datum.c >= datum.o", "value": "#ff0000"}, "value": "#00ffff"}}},
{"data": {"name": "candles"},
"transform": [{"window": [{"op": "mean", "field": "c", "as": "ma"}], "frame": [-4, 0], "sort": [{"field": "i", "order": "ascending"}]}],
"mark": {"type": "line", "color": "#c4c4c4", "strokeWidth": 1, "interpolate": "monotone"},
"encoding": {"y": {"field": "ma", "type": "quantitative", "scale": {"domain": [41.623, 47.56], "range": [551, 0], "nice": false, "zero": false}, "axis": null}}},
{"data": {"name": "pens"}, "mark": {"type": "line", "color": "#3cd6dc", "strokeWidth": 1.6},
"encoding": {"y": {"field": "p", "type": "quantitative", "scale": {"domain": [41.623, 47.56], "range": [551, 0], "nice": false, "zero": false}, "axis": null}}},
{"data": {"name": "seg"}, "mark": {"type": "line", "color": "#ffff00", "strokeWidth": 2.5},
"encoding": {"y": {"field": "p", "type": "quantitative", "scale": {"domain": [41.623, 47.56], "range": [551, 0], "nice": false, "zero": false}, "axis": null}}},
{"data": {"name": "zs"}, "mark": {"type": "rect", "fill": null, "fillOpacity": 0, "stroke": "#3cdcdc", "strokeWidth": 2, "strokeDash": [7, 4]},
"encoding": {"x2": {"field": "i2"},
"y": {"field": "p", "type": "quantitative", "scale": {"domain": [41.623, 47.56], "range": [551, 0], "nice": false, "zero": false}, "axis": null},
"y2": {"field": "p2"}}},
{"data": {"name": "arrows"}, "mark": {"type": "line", "strokeWidth": 1.6, "interpolate": "monotone"},
"encoding": {"y": {"field": "p", "type": "quantitative", "scale": {"domain": [41.623, 47.56], "range": [551, 0], "nice": false, "zero": false}, "axis": null},
"detail": {"field": "g", "type": "nominal"}, "order": {"field": "o", "type": "quantitative"},
"color": {"field": "k", "type": "nominal", "scale": {"domain": ["buy", "sell"], "range": ["#f2ee1a", "#3cdcdc"]}, "legend": null}}},
{"data": {"name": "notes"}, "transform": [{"filter": "datum.k == 'buy'"}],
"mark": {"type": "text", "font": "Noto Sans CJK SC", "fontSize": 17, "color": "#d3c945", "align": "center", "baseline": "middle"},
"encoding": {"y": {"field": "p", "type": "quantitative", "scale": {"domain": [41.623, 47.56], "range": [551, 0], "nice": false, "zero": false}, "axis": null}, "text": {"field": "t"}}},
{"data": {"name": "notes"}, "transform": [{"filter": "datum.k == 'strong'"}],
"mark": {"type": "text", "font": "Noto Sans CJK SC", "fontSize": 18.5, "color": "#ffff00", "align": "center", "baseline": "middle"},
"encoding": {"y": {"field": "p", "type": "quantitative", "scale": {"domain": [41.623, 47.56], "range": [551, 0], "nice": false, "zero": false}, "axis": null}, "text": {"field": "t"}}},
{"data": {"name": "notes"}, "transform": [{"filter": "datum.k == 'sell'"}],
"mark": {"type": "text", "font": "Noto Sans CJK SC", "fontSize": 17.5, "color": "#3cdcdc", "align": "center", "baseline": "middle"},
"encoding": {"y": {"field": "p", "type": "quantitative", "scale": {"domain": [41.623, 47.56], "range": [551, 0], "nice": false, "zero": false}, "axis": null}, "text": {"field": "t"}}},
{"data": {"name": "pbox"}, "mark": {"type": "rect", "fill": "#ff0000", "stroke": "#000000", "strokeWidth": 1.5},
"encoding": {"x2": {"field": "i2"},
"y": {"field": "p", "type": "quantitative", "scale": {"domain": [41.623, 47.56], "range": [551, 0], "nice": false, "zero": false}, "axis": null},
"y2": {"field": "p2"}}},
{"data": {"name": "ptext"}, "mark": {"type": "text", "font": "Noto Sans CJK SC", "fontSize": 17.5, "color": "#000000", "align": "left", "baseline": "middle"},
"encoding": {"y": {"field": "p", "type": "quantitative", "scale": {"domain": [41.623, 47.56], "range": [551, 0], "nice": false, "zero": false}, "axis": null}, "text": {"field": "t"}}},
{"data": {"name": "side"}, "mark": {"type": "text", "font": "Noto Sans CJK SC", "fontSize": 21, "lineHeight": 24, "lineBreak": "\n", "color": "#000000", "align": "center", "baseline": "top"},
"encoding": {"y": {"field": "p", "type": "quantitative", "scale": {"domain": [41.623, 47.56], "range": [551, 0], "nice": false, "zero": false}, "axis": null}, "text": {"field": "t"}}}
]},
{"layer": [
{"data": {"name": "candles"}, "mark": {"type": "bar", "size": 2.8},
"encoding": {
"y": {"field": "m", "type": "quantitative", "scale": {"domain": [-0.505, 0.666], "range": [706, 553], "nice": false, "zero": false},
"axis": {"values": [-0.25, 0, 0.25, 0.5], "format": ".2f", "orient": "left", "title": null, "grid": true, "gridColor": "#3c3c3c", "gridDash": [2,2], "domain": false, "tickSize": 6, "tickColor": "#000000", "labelFont": "Liberation Mono", "labelFontSize": 13, "labelColor": "#000000", "labelPadding": 8}},
"y2": {"datum": 0},
"color": {"condition": {"test": "datum.m >= 0", "value": "#ff0000"}, "value": "#00ffff"}}},
{"data": {"name": "dif"}, "mark": {"type": "line", "color": "#cfcfcf", "strokeWidth": 1, "interpolate": "monotone"},
"encoding": {"y": {"field": "v", "type": "quantitative", "scale": {"domain": [-0.505, 0.666], "range": [706, 553], "nice": false, "zero": false}, "axis": null}}},
{"data": {"name": "dea"}, "mark": {"type": "line", "color": "#d8c400", "strokeWidth": 1, "interpolate": "monotone"},
"encoding": {"y": {"field": "v", "type": "quantitative", "scale": {"domain": [-0.505, 0.666], "range": [706, 553], "nice": false, "zero": false}, "axis": null}}},
{"data": {"name": "marrows"}, "mark": {"type": "line", "color": "#f2ee1a", "strokeWidth": 1.6},
"encoding": {"y": {"field": "v", "type": "quantitative", "scale": {"domain": [-0.505, 0.666], "range": [706, 553], "nice": false, "zero": false}, "axis": null},
"detail": {"field": "g", "type": "nominal"}, "order": {"field": "o", "type": "quantitative"}}},
{"data": {"name": "mnotes"}, "mark": {"type": "text", "font": "Noto Sans CJK SC", "fontSize": 17, "color": "#d3c945", "align": "center", "baseline": "middle"},
"encoding": {"y": {"field": "v", "type": "quantitative", "scale": {"domain": [-0.505, 0.666], "range": [706, 553], "nice": false, "zero": false}, "axis": null}, "text": {"field": "t"}}},
{"data": {"name": "mbox"}, "mark": {"type": "rect", "stroke": "#000000", "strokeWidth": 1.8},
"encoding": {"x2": {"field": "i2"},
"y": {"field": "v", "type": "quantitative", "scale": {"domain": [-0.505, 0.666], "range": [706, 553], "nice": false, "zero": false}, "axis": null},
"y2": {"field": "v2"},
"fill": {"field": "fill", "type": "nominal", "scale": {"domain": ["red", "yellow"], "range": ["#ff0000", "#ffff00"]}, "legend": null}}},
{"data": {"values": [{"t": "MACD(12,26,9)", "i": -0.9, "v": 0.615}]},
"mark": {"type": "text", "font": "Liberation Mono", "fontSize": 12.2, "color": "#000000", "align": "left", "baseline": "middle"},
"encoding": {"y": {"field": "v", "type": "quantitative", "scale": {"domain": [-0.505, 0.666], "range": [706, 553], "nice": false, "zero": false}, "axis": null}, "text": {"field": "t"}}},
{"data": {"values": [{"t": "缠论自动画线、买卖点自动推送：", "i": -0.2, "v": -0.39}]},
"mark": {"type": "text", "font": "Noto Sans CJK SC", "fontSize": 21.5, "color": "#000000", "align": "left", "baseline": "middle"},
"encoding": {"y": {"field": "v", "type": "quantitative", "scale": {"domain": [-0.505, 0.666], "range": [706, 553], "nice": false, "zero": false}, "axis": null}, "text": {"field": "t"}}},
{"data": {"values": [{"t": "www.crazychanlun.com", "i": 74.0, "v": -0.39}]},
"mark": {"type": "text", "font": "Liberation Mono", "fontSize": 18, "color": "#000000", "align": "left", "baseline": "middle"},
"encoding": {"y": {"field": "v", "type": "quantitative", "scale": {"domain": [-0.505, 0.666], "range": [706, 553], "nice": false, "zero": false}, "axis": null}, "text": {"field": "t"}}}
]}
],
"resolve": {"scale": {"y": "independent", "color": "independent", "fill": "independent"}, "axis": {"y": "independent"}}
}
